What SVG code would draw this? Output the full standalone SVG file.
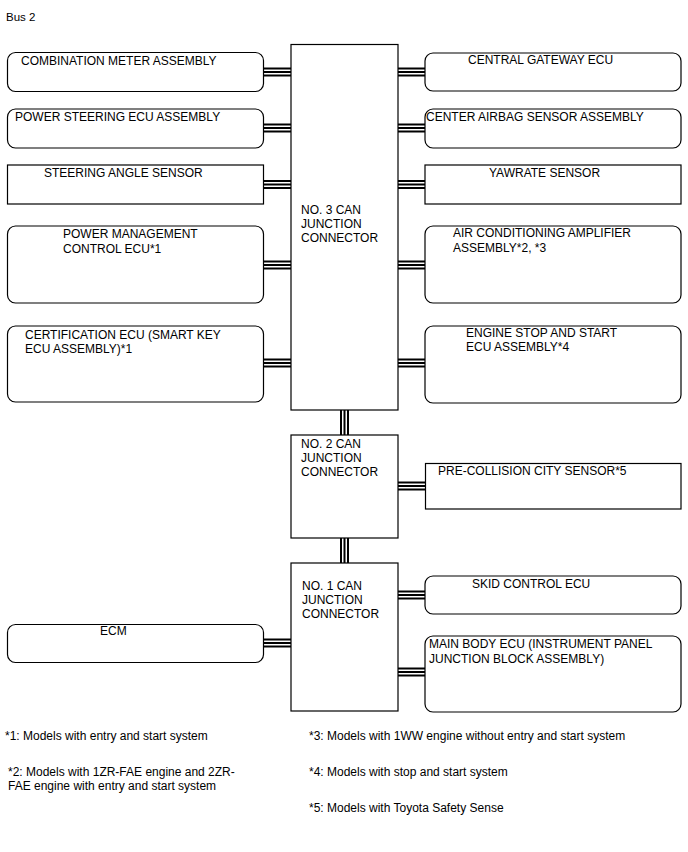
<svg xmlns="http://www.w3.org/2000/svg" width="688" height="852" viewBox="0 0 688 852">
<style>
text{font-family:"Liberation Sans",Arial,sans-serif;font-size:12px;fill:#000}
.fn{font-size:12px}
.box{fill:#fff;stroke:#000;stroke-width:1.2}
.bus line{stroke:#000;stroke-width:2}
</style>
<rect width="688" height="852" fill="#fff"/>
<text x="6" y="21" style="font-size:11.5px">Bus 2</text>

<g id="connectors" class="bus">
  <!-- left side to No.3 -->
  <g><line x1="263" y1="68.5" x2="291" y2="68.5"/><line x1="263" y1="72" x2="291" y2="72"/><line x1="263" y1="75.5" x2="291" y2="75.5"/></g>
  <g><line x1="263" y1="124.5" x2="291" y2="124.5"/><line x1="263" y1="128" x2="291" y2="128"/><line x1="263" y1="131.5" x2="291" y2="131.5"/></g>
  <g><line x1="263" y1="181" x2="291" y2="181"/><line x1="263" y1="184.5" x2="291" y2="184.5"/><line x1="263" y1="188" x2="291" y2="188"/></g>
  <g><line x1="263" y1="261.5" x2="291" y2="261.5"/><line x1="263" y1="265" x2="291" y2="265"/><line x1="263" y1="268.5" x2="291" y2="268.5"/></g>
  <g><line x1="263" y1="359.5" x2="291" y2="359.5"/><line x1="263" y1="363" x2="291" y2="363"/><line x1="263" y1="366.5" x2="291" y2="366.5"/></g>
  <!-- right side from No.3 -->
  <g><line x1="398" y1="68.5" x2="425" y2="68.5"/><line x1="398" y1="72" x2="425" y2="72"/><line x1="398" y1="75.5" x2="425" y2="75.5"/></g>
  <g><line x1="398" y1="124.5" x2="425" y2="124.5"/><line x1="398" y1="128" x2="425" y2="128"/><line x1="398" y1="131.5" x2="425" y2="131.5"/></g>
  <g><line x1="398" y1="181" x2="425" y2="181"/><line x1="398" y1="184.5" x2="425" y2="184.5"/><line x1="398" y1="188" x2="425" y2="188"/></g>
  <g><line x1="398" y1="261.5" x2="425" y2="261.5"/><line x1="398" y1="265" x2="425" y2="265"/><line x1="398" y1="268.5" x2="425" y2="268.5"/></g>
  <g><line x1="398" y1="359.5" x2="425" y2="359.5"/><line x1="398" y1="363" x2="425" y2="363"/><line x1="398" y1="366.5" x2="425" y2="366.5"/></g>
  <!-- No.3 to No.2 -->
  <g><line x1="341" y1="410" x2="341" y2="435"/><line x1="344.5" y1="410" x2="344.5" y2="435"/><line x1="348" y1="410" x2="348" y2="435"/></g>
  <!-- No.2 to pre-collision -->
  <g><line x1="398" y1="482.5" x2="425" y2="482.5"/><line x1="398" y1="486" x2="425" y2="486"/><line x1="398" y1="489.5" x2="425" y2="489.5"/></g>
  <!-- No.2 to No.1 -->
  <g><line x1="341" y1="538" x2="341" y2="563"/><line x1="344.5" y1="538" x2="344.5" y2="563"/><line x1="348" y1="538" x2="348" y2="563"/></g>
  <!-- No.1 connections -->
  <g><line x1="398" y1="591.5" x2="425" y2="591.5"/><line x1="398" y1="595" x2="425" y2="595"/><line x1="398" y1="598.5" x2="425" y2="598.5"/></g>
  <g><line x1="398" y1="668.5" x2="425" y2="668.5"/><line x1="398" y1="672" x2="425" y2="672"/><line x1="398" y1="675.5" x2="425" y2="675.5"/></g>
  <g><line x1="263" y1="639.5" x2="291" y2="639.5"/><line x1="263" y1="643" x2="291" y2="643"/><line x1="263" y1="646.5" x2="291" y2="646.5"/></g>
</g>

<g id="no3-can-junction">
  <rect class="box" x="291" y="44.5" width="107" height="365.5"/>
  <text x="301" y="214">NO. 3 CAN</text>
  <text x="301" y="228">JUNCTION</text>
  <text x="301" y="242">CONNECTOR</text>
</g>
<g id="no2-can-junction">
  <rect class="box" x="291" y="435" width="107" height="103"/>
  <text x="301" y="448">NO. 2 CAN</text>
  <text x="301" y="462">JUNCTION</text>
  <text x="301" y="476">CONNECTOR</text>
</g>
<g id="no1-can-junction">
  <rect class="box" x="291" y="563" width="107" height="148"/>
  <text x="302" y="590">NO. 1 CAN</text>
  <text x="302" y="604">JUNCTION</text>
  <text x="302" y="618">CONNECTOR</text>
</g>

<g id="combination-meter">
  <rect class="box" x="7.5" y="52.5" width="256" height="39" rx="8"/>
  <text x="21" y="65">COMBINATION METER ASSEMBLY</text>
</g>
<g id="power-steering-ecu">
  <rect class="box" x="7.5" y="109" width="256" height="39" rx="8"/>
  <text x="15" y="121">POWER STEERING ECU ASSEMBLY</text>
</g>
<g id="steering-angle-sensor">
  <rect class="box" x="7.5" y="165" width="256" height="39"/>
  <text x="44" y="177">STEERING ANGLE SENSOR</text>
</g>
<g id="power-management-ecu">
  <rect class="box" x="7.5" y="226" width="256" height="77" rx="8"/>
  <text x="63" y="238">POWER MANAGEMENT</text>
  <text x="63" y="253">CONTROL ECU*1</text>
</g>
<g id="certification-ecu">
  <rect class="box" x="7.5" y="326" width="256" height="76" rx="8"/>
  <text x="25" y="339">CERTIFICATION ECU (SMART KEY</text>
  <text x="25" y="353">ECU ASSEMBLY)*1</text>
</g>
<g id="ecm">
  <rect class="box" x="7.5" y="624.5" width="256" height="38" rx="8"/>
  <text x="100" y="635">ECM</text>
</g>

<g id="central-gateway-ecu">
  <rect class="box" x="425" y="53" width="256" height="38" rx="8"/>
  <text x="468" y="64">CENTRAL GATEWAY ECU</text>
</g>
<g id="center-airbag-sensor">
  <rect class="box" x="425" y="109" width="256" height="39" rx="8"/>
  <text x="426" y="121">CENTER AIRBAG SENSOR ASSEMBLY</text>
</g>
<g id="yawrate-sensor">
  <rect class="box" x="425" y="165" width="256" height="39"/>
  <text x="489" y="177">YAWRATE SENSOR</text>
</g>
<g id="air-conditioning-amplifier">
  <rect class="box" x="425" y="226" width="256" height="77" rx="8"/>
  <text x="453" y="237">AIR CONDITIONING AMPLIFIER</text>
  <text x="453" y="252">ASSEMBLY*2, *3</text>
</g>
<g id="engine-stop-start-ecu">
  <rect class="box" x="425" y="326" width="256" height="77" rx="8"/>
  <text x="466" y="337">ENGINE STOP AND START</text>
  <text x="466" y="351">ECU ASSEMBLY*4</text>
</g>
<g id="pre-collision-city-sensor">
  <rect class="box" x="425.5" y="463.5" width="255.5" height="45.5"/>
  <text x="438" y="475">PRE-COLLISION CITY SENSOR*5</text>
</g>
<g id="skid-control-ecu">
  <rect class="box" x="425" y="576" width="256" height="38" rx="8"/>
  <text x="472" y="588">SKID CONTROL ECU</text>
</g>
<g id="main-body-ecu">
  <rect class="box" x="425" y="636" width="256" height="76" rx="8"/>
  <text x="429" y="648">MAIN BODY ECU (INSTRUMENT PANEL</text>
  <text x="429" y="663">JUNCTION BLOCK ASSEMBLY)</text>
</g>

<g id="footnotes">
  <text class="fn" x="5" y="740">*1: Models with entry and start system</text>
  <text class="fn" x="309" y="740">*3: Models with 1WW engine without entry and start system</text>
  <text class="fn" x="8" y="776">*2: Models with 1ZR-FAE engine and 2ZR-</text>
  <text class="fn" x="8" y="790">FAE engine with entry and start system</text>
  <text class="fn" x="309" y="776">*4: Models with stop and start system</text>
  <text class="fn" x="309" y="812">*5: Models with Toyota Safety Sense</text>
</g>
</svg>
